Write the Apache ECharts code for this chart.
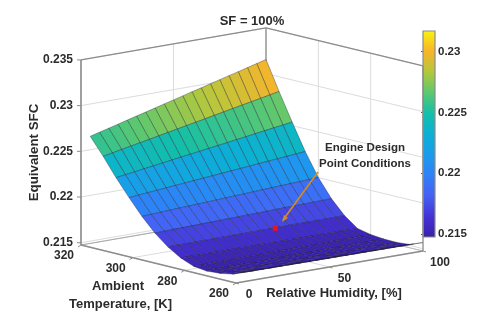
<!DOCTYPE html>
<html>
<head>
<meta charset="utf-8">
<title>SF = 100%</title>
<style>
html,body{margin:0;padding:0;background:#fff}
#chart{width:480px;height:330px;filter:blur(.45px)}
</style>
<script src="https://cdn.jsdelivr.net/npm/echarts@6/dist/echarts.min.js"></script>
</head>
<body>
<div id="chart"></div>
<script>
// chart values
var humidity = [5,10,15,20,25,30,35,40,45,50,55,60,65,70,75,80,85,90,95,100];
var temperature = [320,315,310,305,300,295,290,285,280,275,270,265,260];
var sfc320 = [.22647,.22674,.22700,.22727,.22754,.22781,.22807,.22834,.22861,.22887,.22914,.22941,.22967,.22994,.23021,.23048,.23074,.23101,.23128,.23154];
var sfc315 = [.22462,.22482,.22502,.22522,.22541,.22561,.22581,.22601,.22621,.22641,.22660,.22680,.22700,.22720,.22740,.22760,.22779,.22799,.22819,.22839];
var sfc310 = [.22263,.22278,.22292,.22307,.22321,.22336,.22350,.22365,.22379,.22394,.22408,.22423,.22437,.22452,.22466,.22481,.22495,.22510,.22524,.22539];
var sfc305 = [.22080,.22089,.22098,.22107,.22116,.22125,.22134,.22143,.22152,.22161,.22170,.22179,.22188,.22197,.22206,.22215,.22224,.22233,.22242,.22251];
var sfc300 = [.21909,.21914,.21919,.21924,.21929,.21933,.21938,.21943,.21948,.21953,.21958,.21963,.21968,.21973,.21978,.21982,.21987,.21992,.21997,.22002];
var sfc295 = [.21761,.21763,.21766,.21768,.21770,.21773,.21775,.21778,.21780,.21782,.21785,.21787,.21789,.21792,.21794,.21797,.21799,.21801,.21804,.21806];
var sfc290 = [.21645,.21646,.21646,.21647,.21647,.21648,.21648,.21649,.21649,.21650,.21650,.21651,.21651,.21652,.21652,.21653,.21653,.21654,.21654,.21655];
var sfc285 = [.21559,.21558,.21558,.21557,.21557,.21556,.21556,.21555,.21555,.21554,.21554,.21553,.21553,.21552,.21552,.21551,.21550,.21550,.21549,.21548];
var sfc280 = [.21501,.21502,.21503,.21504,.21505,.21505,.21506,.21507,.21508,.21509,.21509,.21510,.21511,.21512,.21513,.21513,.21514,.21515,.21516,.21517];
var sfc275 = [.21485,.21486,.21487,.21488,.21489,.21490,.21491,.21492,.21493,.21494,.21494,.21495,.21496,.21497,.21498,.21499,.21500,.21500,.21501,.21502];
var sfc270 = [.21495,.21495,.21495,.21496,.21496,.21496,.21496,.21497,.21497,.21497,.21497,.21497,.21498,.21498,.21498,.21498,.21499,.21499,.21499,.21499];
var sfc265 = [.21520,.21520,.21519,.21519,.21518,.21518,.21518,.21517,.21517,.21517,.21516,.21516,.21515,.21515,.21515,.21514,.21514,.21513,.21513,.21512];
var sfc260 = [.21577,.21576,.21576,.21575,.21575,.21574,.21574,.21573,.21573,.21572,.21572,.21572,.21571,.21571,.21570,.21570,.21570,.21569,.21569,.21568];
var sfcRows = [sfc320,sfc315,sfc310,sfc305,sfc300,sfc295,sfc290,sfc285,sfc280,sfc275,sfc270,sfc265,sfc260];
var sfcTicks = [0.215,0.22,0.225,0.23,0.235];
var tempTicks = [260,280,300,320];
var humidityTicks = [0,50,100];
var colorTicks = [0.215,0.22,0.225,0.23];
var designPoint = [60,288,0.2167];

var parula = ['#3a20a8','#4432d4','#4660f4','#3080f8','#1a9cec','#0cb0d4','#14bfa8','#5cc870','#b4c83c','#f8b42c','#f8f410'];
var sfcMin = 0.21475, sfcMax = 0.2317, boxTop = 0.235;
var font = '"Liberation Sans", Arial, sans-serif';
var textColor = '#2b2b2b';

// fixed view of the box: relative humidity, temperature and SFC to the flat plane
function project(rh, t, z) {
	var u = rh / 100, v = (t - 260) / 60;
	return [236 + 187 * u - 155 * v - 2 * u * v, 283 - 32 * u - 38 * v - (z - sfcMin) * 9140];
}
function faceColor(z) {
	var s = (z - sfcMin) / (sfcMax - sfcMin);
	return echarts.color.lerp(Math.max(0, Math.min(1, s)), parula);
}

// cells back to front so near faces paint last
var cells = [];
for (var i = 0; i < temperature.length - 1; i++) {
	for (var j = humidity.length - 2; j >= 0; j--) cells.push([i, j]);
}

function renderSurface(params, api) {
	var i = api.value(0), j = api.value(1);
	var corners = [[i,j],[i,j+1],[i+1,j+1],[i+1,j]];
	var sum = 0;
	var pts = corners.map(function (c) {
		var z = sfcRows[c[0]][c[1]];
		sum += z;
		return api.coord(project(humidity[c[1]], temperature[c[0]], z));
	});
	return {
		type: 'polygon',
		shape: {points: pts},
		style: {fill: faceColor(sum / 4), stroke: 'rgba(25,25,45,.5)', lineWidth: 0.7}
	};
}

function renderBox(params, api) {
	var kids = [];
	function line(a, b, color, w) {
		var p = api.coord(a), q = api.coord(b);
		kids.push({type: 'line', shape: {x1: p[0], y1: p[1], x2: q[0], y2: q[1]}, style: {stroke: color, lineWidth: w}});
	}
	var grid = '#dcdcdc', edge = '#8c8c8c';
	sfcTicks.forEach(function (z) {
		line(project(0,320,z), project(100,320,z), grid, 1);
		line(project(100,320,z), project(100,260,z), grid, 1);
	});
	humidityTicks.forEach(function (rh) {
		line(project(rh,320,sfcMin), project(rh,260,sfcMin), grid, 1);
		line(project(rh,320,sfcMin), project(rh,320,boxTop), grid, 1);
	});
	tempTicks.forEach(function (t) {
		line(project(0,t,sfcMin), project(100,t,sfcMin), grid, 1);
		line(project(100,t,sfcMin), project(100,t,boxTop), grid, 1);
	});
	line(project(0,320,sfcMin), project(100,320,sfcMin), '#a8a8a8', 1);
	line(project(100,320,sfcMin), project(100,260,sfcMin), '#bdbdbd', 1);
	line(project(0,320,boxTop), project(100,320,boxTop), edge, 1.2);
	line(project(100,320,boxTop), project(100,260,boxTop), edge, 1.2);
	line(project(100,320,sfcMin), project(100,320,boxTop), edge, 1.2);
	return {type: 'group', children: kids};
}

function renderFrame(params, api) {
	var kids = [];
	function line(a, b, color, w) {
		var p = api.coord(a), q = api.coord(b);
		kids.push({type: 'line', shape: {x1: p[0], y1: p[1], x2: q[0], y2: q[1]}, style: {stroke: color, lineWidth: w}});
	}
	function label(txt, pos, dx, dy, align, size) {
		var p = api.coord(pos);
		kids.push({type: 'text', style: {x: p[0] + dx, y: p[1] + dy, text: String(txt), align: align, verticalAlign: 'middle',
			fill: textColor, font: 'bold ' + size + 'px ' + font}});
	}
	var edge = '#8c8c8c';
	line(project(0,320,sfcMin), project(0,320,boxTop), edge, 1.6);
	line(project(100,260,sfcMin), project(100,260,boxTop), edge, 1.2);
	line(project(0,320,sfcMin), project(0,260,sfcMin), edge, 1.4);
	line(project(0,260,sfcMin), project(100,260,sfcMin), edge, 1.4);
	sfcTicks.forEach(function (z) {
		var p = project(0,320,z);
		line([p[0] - 4, p[1]], p, edge, 1);
		label(z, p, -8, 0, 'right', 12);
	});
	tempTicks.forEach(function (t) {
		var p = project(0,t,sfcMin);
		line(p, [p[0] - 3, p[1] + 2], edge, 1);
		label(t, p, -17, 11, 'center', 12);
	});
	humidityTicks.forEach(function (rh) {
		var p = project(rh,260,sfcMin);
		line(p, [p[0] + 3, p[1] + 1], edge, 1);
		label(rh, p, rh == 0 ? 13 : rh == 50 ? 15 : 17, 12, 'center', 12);
	});
	return {type: 'group', children: kids};
}

function renderPoint(params, api) {
	var p = api.coord(project(api.value(0), api.value(1), api.value(2)));
	return {type: 'rect', shape: {x: p[0] - 2.5, y: p[1] - 2.5, width: 5, height: 5}, style: {fill: '#f01020'}};
}

function renderColorbar(params, api) {
	var top = api.coord([0, sfcMax]), bottom = api.coord([1, sfcMin]);
	var stops = parula.map(function (c, k) { return {offset: 1 - k / (parula.length - 1), color: c}; }).reverse();
	return {
		type: 'rect',
		shape: {x: top[0], y: top[1], width: bottom[0] - top[0], height: bottom[1] - top[1]},
		style: {fill: new echarts.graphic.LinearGradient(0, 0, 0, 1, stops), stroke: '#8c8c8c', lineWidth: 1.2}
	};
}

var myChart = echarts.init(document.getElementById('chart'));
var plane = function (idx, max, inverse) {
	return {type: 'value', gridIndex: idx, min: 0, max: max, inverse: inverse, show: false};
};
var option = {
	animation: false,
	backgroundColor: '#fff',
	title: {
		text: 'SF = 100%', left: 247, top: 10, textAlign: 'center',
		textStyle: {fontFamily: font, fontSize: 13, fontWeight: 'bold', color: textColor}
	},
	grid: [
		{left: 0, top: 0, width: 480, height: 330},
		{left: 423, top: 31, width: 12, height: 206}
	],
	xAxis: [plane(0, 480, false), {type: 'value', gridIndex: 1, min: 0, max: 1, show: false}],
	yAxis: [plane(0, 330, true), {
		type: 'value', gridIndex: 1, position: 'right', min: sfcMin, max: sfcMax,
		axisLine: {show: false},
		splitLine: {show: false},
		axisTick: {inside: true, length: 2, lineStyle: {color: '#555'}, customValues: colorTicks},
		axisLabel: {
			margin: 3, fontFamily: font, fontSize: 11.5, fontWeight: 'bold', color: textColor,
			customValues: colorTicks,
			formatter: function (v) { return String(v); }
		}
	}],
	series: [
		{type: 'custom', xAxisIndex: 0, yAxisIndex: 0, silent: true, clip: false, data: [[0]], renderItem: renderBox, z: 1},
		{type: 'custom', xAxisIndex: 0, yAxisIndex: 0, silent: true, clip: false, data: cells, renderItem: renderSurface, z: 2},
		{type: 'custom', xAxisIndex: 0, yAxisIndex: 0, silent: true, clip: false, data: [[0]], renderItem: renderFrame, z: 3},
		{type: 'custom', xAxisIndex: 0, yAxisIndex: 0, silent: true, clip: false, data: [designPoint], renderItem: renderPoint, z: 5},
		{type: 'custom', xAxisIndex: 1, yAxisIndex: 1, silent: true, clip: false, data: [[0]], renderItem: renderColorbar, z: 1}
	],
	graphic: [
		{type: 'text', z: 20, x: 34, y: 152.5, rotation: Math.PI / 2, style: {text: 'Equivalent SFC', align: 'center', verticalAlign: 'middle', fill: textColor, font: 'bold 13.3px ' + font}},
		{type: 'text', z: 20, x: 118, y: 286, style: {text: 'Ambient', align: 'center', verticalAlign: 'middle', fill: textColor, font: 'bold 13px ' + font}},
		{type: 'text', z: 20, x: 120.5, y: 304, style: {text: 'Temperature, [K]', align: 'center', verticalAlign: 'middle', fill: textColor, font: 'bold 13px ' + font}},
		{type: 'text', z: 20, x: 334, y: 293, style: {text: 'Relative Humidity, [%]', align: 'center', verticalAlign: 'middle', fill: textColor, font: 'bold 13px ' + font}},
		{type: 'text', z: 20, x: 365, y: 148, style: {text: 'Engine Design', align: 'center', verticalAlign: 'middle', fill: textColor, font: 'bold 11.5px ' + font}},
		{type: 'text', z: 20, x: 365, y: 164, style: {text: 'Point Conditions', align: 'center', verticalAlign: 'middle', fill: textColor, font: 'bold 11.5px ' + font}},
		{type: 'polyline', z: 20, shape: {points: [[318,172],[283,220]]}, style: {stroke: '#d98a1e', lineWidth: 1.6, fill: null}},
		{type: 'polygon', z: 20, shape: {points: [[282,222],[284,215],[288,218]]}, style: {fill: '#d98a1e'}}
	]
};
myChart.setOption(option);
window.addEventListener("resize", function () {
	myChart.resize();
});
</script>
</body>
</html>
